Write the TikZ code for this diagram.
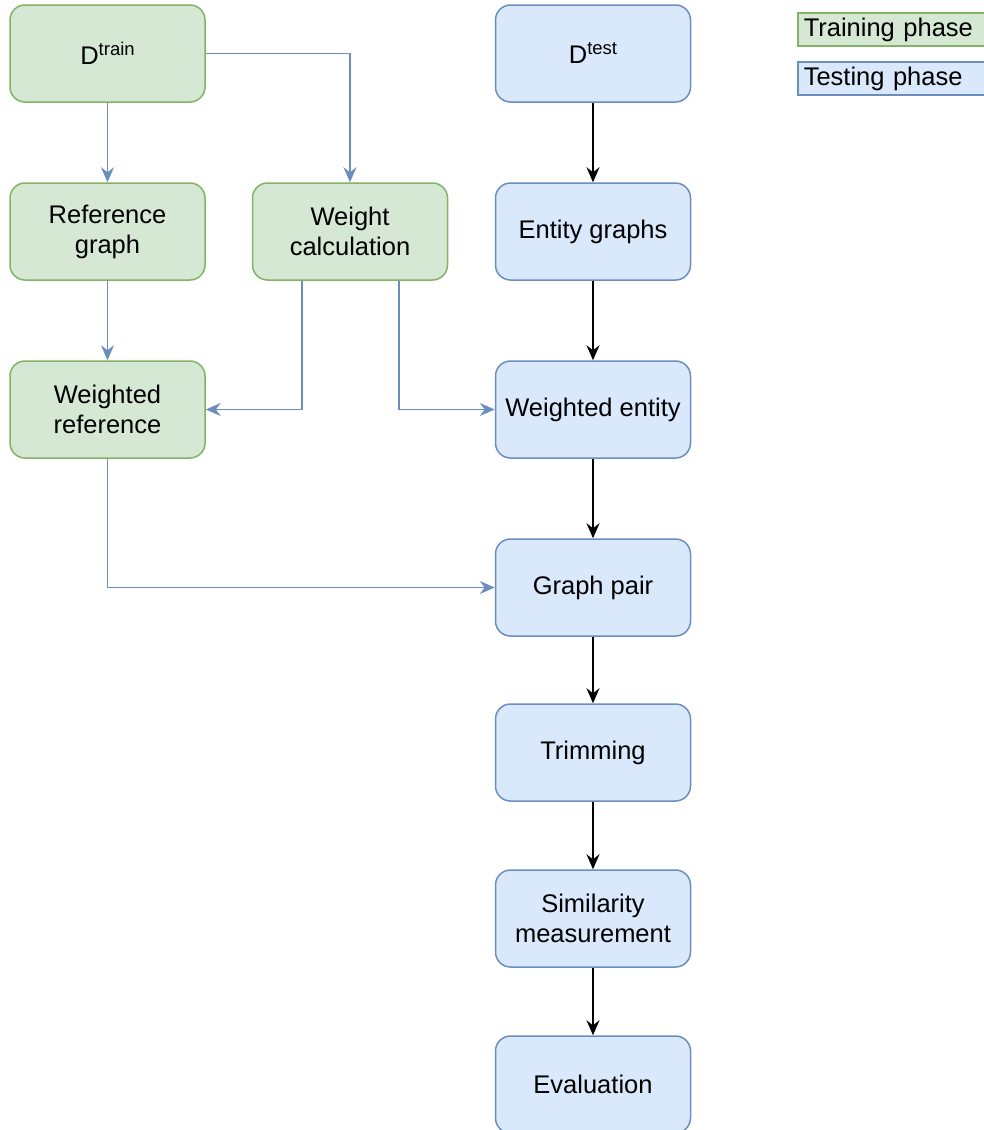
\documentclass[tikz,border=0pt]{standalone}
\usepackage{fontspec}
\setmainfont{Liberation Sans}
\usetikzlibrary{arrows.meta}
\definecolor{gfill}{HTML}{D5E8D4}
\definecolor{gdraw}{HTML}{82B366}
\definecolor{bfill}{HTML}{DAE8FC}
\definecolor{bdraw}{HTML}{6C8EBF}
\newcommand{\supr}[1]{\raisebox{9pt}{\fontsize{18.5}{19}\selectfont #1}}
\begin{document}
\begin{tikzpicture}[x=1pt,y=-1pt,
  box/.style={rounded corners=15pt, minimum width=195pt, minimum height=97pt,
    line width=1.5pt, align=center, inner sep=0pt,
    font=\fontsize{25.5}{30}\selectfont},
  trainbox/.style={box, fill=gfill, draw=gdraw},
  testbox/.style={box, fill=bfill, draw=bdraw},
  legbox/.style={anchor=west, minimum height=33pt, text width=200pt, inner xsep=6pt,
    inner ysep=0pt, align=left, line width=1.5pt, font=\fontsize{25.5}{30}\selectfont},
  tip/.style={-{Stealth[length=15pt,width=13pt,inset=5pt]}},
  bluearrow/.style={tip, draw=bdraw, line width=1.6pt},
  blackarrow/.style={tip, draw=black, line width=1.6pt},
]
\useasboundingbox (0,0) rectangle (983,1130);

% training column
\node[trainbox] (dtrain) at (107.5,53.5) {D\supr{train}};
\node[trainbox] (refg) at (107.5,231.5) {Reference\\graph};
\node[trainbox] (wcalc) at (350,231.5) {Weight\\calculation};
\node[trainbox] (wref) at (107.5,409.5) {Weighted\\reference};

% testing column
\node[testbox] (dtest) at (593,53.5) {D\supr{test}};
\node[testbox] (egr) at (593,231.5) {Entity graphs};
\node[testbox] (went) at (593,409.5) {Weighted entity};
\node[testbox] (gpair) at (593,587.5) {Graph pair};
\node[testbox] (trim) at (593,752.5) {Trimming};
\node[testbox] (sim) at (593,918.5) {Similarity\\measurement};
\node[testbox] (evalu) at (593,1084.5) {Evaluation};

% legend
\node[legbox, fill=gfill, draw=gdraw] (legtrain) at (797,29.5) {Training phase};
\node[legbox, fill=bfill, draw=bdraw] (legtest) at (797,78.5) {Testing phase};

% blue connectors
\draw[bluearrow] (dtrain.south) -- (refg.north);
\draw[bluearrow] (dtrain.east) -| (wcalc.north);
\draw[bluearrow] (refg.south) -- (wref.north);
\draw[bluearrow] ([xshift=-48pt]wcalc.south) |- (wref.east);
\draw[bluearrow] ([xshift=49pt]wcalc.south) |- (went.west);
\draw[bluearrow] (wref.south) |- (gpair.west);

% black connectors
\draw[blackarrow] (dtest) -- (egr);
\draw[blackarrow] (egr) -- (went);
\draw[blackarrow] (went) -- (gpair);
\draw[blackarrow] (gpair) -- (trim);
\draw[blackarrow] (trim) -- (sim);
\draw[blackarrow] (sim) -- (evalu);
\end{tikzpicture}
\end{document}
